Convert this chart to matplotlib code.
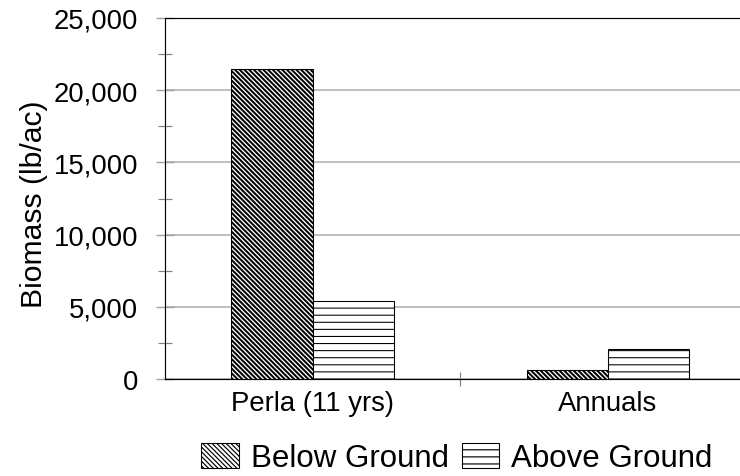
import matplotlib
matplotlib.use("Agg")
import matplotlib.pyplot as plt
import numpy as np

categories = ["Perla (11 yrs)", "Annuals"]
below_ground = [21500, 650]
above_ground = [5400, 2100]
series_names = ["Below Ground", "Above Ground"]
y_ticks = [0, 5000, 10000, 15000, 20000, 25000]

DPI = 85
FS_TICK = 23.3
FS_YLAB = 25.5
FS_LEG = 26.5
plt.rcParams['font.family'] = ['Liberation Sans', 'DejaVu Sans']
px = 72.0 / DPI

fig = plt.figure(figsize=(741 / DPI, 477 / DPI), dpi=DPI)
fig.patch.set_facecolor('white')
ax = fig.add_axes([165 / 741, 97 / 477, (755.5 - 165) / 741, (380 - 19) / 477])

x = np.arange(len(categories))
w = 0.275

with plt.rc_context({'hatch.linewidth': 1.7}):
    b1 = ax.bar(x - w / 2, below_ground, w, facecolor='white', edgecolor='black',
                hatch='\\' * 6, linewidth=0.9, label=series_names[0], zorder=3)
with plt.rc_context({'hatch.linewidth': 0.9}):
    b2 = ax.bar(x + w / 2, above_ground, w, facecolor='white', edgecolor='black',
                hatch='--', linewidth=0.9, label=series_names[1], zorder=3)

ax.set_xlim(-0.5, 1.5)
ax.set_ylim(0, 25000)
ax.set_yticks(y_ticks)
ax.set_yticklabels([f"{v:,}" for v in y_ticks])
ax.set_yticks(np.arange(2500, 25000, 5000), minor=True)
ax.set_xticks(x)
ax.set_xticklabels(categories)
ax.set_xticks([0.5], minor=True)

ax.tick_params(axis='y', which='major', direction='inout', length=18 * px, width=1.2,
               color='#a0a0a0', pad=18 * px, labelsize=FS_TICK, labelcolor='black')
ax.tick_params(axis='y', which='minor', direction='inout', length=14 * px, width=1.0,
               color='#808080')
ax.tick_params(axis='x', which='major', length=0, pad=11 * px, labelsize=FS_TICK)
ax.tick_params(axis='x', which='minor', direction='inout', length=14 * px, width=1.0,
               color='#808080')

ax.yaxis.grid(True, which='major', color='#b4b4b4', linewidth=1.4, zorder=0)
ax.set_axisbelow(True)

for s in ['left', 'top', 'bottom']:
    ax.spines[s].set_color('black')
    ax.spines[s].set_linewidth(1.0)
ax.spines['right'].set_visible(False)

fig.text(34 / 741, 1 - 204 / 477, "Biomass (lb/ac)", rotation=90, ha='center', va='center',
         fontsize=FS_YLAB)

leg = fig.legend(handles=[b1, b2], loc='center', bbox_to_anchor=(457 / 741, 18 / 477),
                 ncol=2, frameon=False, fontsize=FS_LEG, handlelength=1.2, handleheight=0.87,
                 handletextpad=0.38, columnspacing=0.42, borderpad=0)

fig.savefig("out.png", dpi=DPI, facecolor='white')
